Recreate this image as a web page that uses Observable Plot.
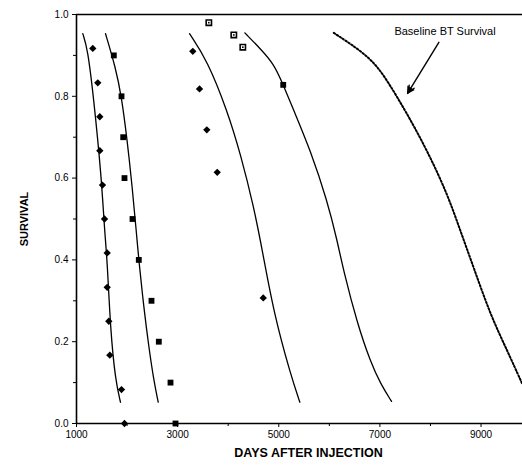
<!DOCTYPE html>
<html>
<head>
<meta charset="utf-8">
<script src="https://cdn.jsdelivr.net/npm/d3@7"></script>
<script src="https://cdn.jsdelivr.net/npm/@observablehq/plot@0.6"></script>
<style>
  html, body { margin: 0; padding: 0; background: #fff; }
  #chart svg { display: block; }
</style>
</head>
<body>
<div id="chart"></div>
<script>
// ---- data ----
const xMajorTicks = [1000, 3000, 5000, 7000, 9000];
const xMinorTicks = [2000, 4000, 6000, 8000];
const yMajorTicks = [0, 0.2, 0.4, 0.6, 0.8, 1.0];
const yMinorTicks = [0.1, 0.3, 0.5, 0.7, 0.9];

// observed points
const diamondsAx = [1322, 1421, 1461, 1461, 1514, 1554, 1607, 1607, 1639, 1659, 1890, 1949];
const diamondsAy = [0.917, 0.833, 0.75, 0.667, 0.583, 0.5, 0.417, 0.333, 0.25, 0.167, 0.083, 0];
const squaresBx = [1738, 1890, 1924, 1949, 2108, 2232, 2483, 2628, 2859, 2958];
const squaresBy = [0.9, 0.8, 0.7, 0.6, 0.5, 0.4, 0.3, 0.2, 0.1, 0];
const diamondsCx = [3300, 3433, 3577, 3783, 4693];
const diamondsCy = [0.91, 0.818, 0.718, 0.614, 0.307];
const openSquaresx = [3617, 4111, 4289];
const openSquaresy = [0.98, 0.95, 0.92];
const filledSquareDx = [5088];
const filledSquareDy = [0.828];

// fitted curves
const curve1x = [1125, 1218, 1336, 1494, 1554, 1607, 1672, 1771, 1870];
const curve1y = [0.953, 0.917, 0.800, 0.601, 0.472, 0.401, 0.227, 0.105, 0.052];
const curve2x = [1574, 1771, 1890, 2003, 2102, 2181, 2232, 2331, 2430, 2529, 2616];
const curve2y = [0.953, 0.871, 0.800, 0.692, 0.578, 0.472, 0.399, 0.284, 0.187, 0.105, 0.052];
const curve3x = [3235, 3585, 3981, 4244, 4507, 4680, 4902, 5233, 5417];
const curve3y = [0.953, 0.888, 0.765, 0.659, 0.529, 0.420, 0.270, 0.120, 0.052];
const curve4x = [4329, 4639, 4902, 5068, 5298, 5628, 5958, 6156, 6287, 6552, 6815, 7013, 7230];
const curve4y = [0.955, 0.916, 0.879, 0.834, 0.765, 0.667, 0.545, 0.447, 0.370, 0.245, 0.150, 0.097, 0.054];
const baselineX = [6089, 6815, 7145, 7541, 7936, 8332, 8595, 8858, 9188, 9519, 9815];
const baselineY = [0.955, 0.896, 0.839, 0.757, 0.667, 0.562, 0.470, 0.380, 0.265, 0.178, 0.097];

const annotationText = "Baseline BT Survival";
const annotationPos = {x: 8288, y: 0.959};
const arrowFrom = {x: 8166, y: 0.932};
const arrowTo = {x: 7547, y: 0.807};

// ---- build tables ----
const zip = (xs, ys) => xs.map((x, i) => ({x, y: ys[i]}));
const curves = [
  zip(curve1x, curve1y), zip(curve2x, curve2y),
  zip(curve3x, curve3y), zip(curve4x, curve4y)
];

const font = "'Liberation Sans', Arial, Helvetica, sans-serif";

const chart = Plot.plot({
  width: 522,
  height: 471,
  marginLeft: 76,
  marginRight: 0,
  marginTop: 14,
  marginBottom: 48,
  style: {fontFamily: font, fontSize: "10px", color: "#000", background: "#fff"},
  x: {domain: [1000, 9820]},
  y: {domain: [0, 1]},
  marks: [
    ...curves.map(c => Plot.line(c, {x: "x", y: "y", curve: "basis", stroke: "#000", strokeWidth: 1.3})),
    Plot.line(zip(baselineX, baselineY), {x: "x", y: "y", curve: "basis", stroke: "#000", strokeWidth: 2, strokeDasharray: "1.5,2"}),
    Plot.ruleY([0, 1], {stroke: "#000", strokeWidth: 1.6}),
    Plot.ruleX([1000], {stroke: "#000", strokeWidth: 1.6}),
    Plot.axisX(xMajorTicks, {tickSize: 4, tickPadding: 3, tickFormat: "d", label: null, fontSize: 10}),
    Plot.axisX(xMinorTicks, {tickSize: 3, tickFormat: () => "", label: null}),
    Plot.axisY(yMajorTicks, {tickSize: 4, tickPadding: 4, tickFormat: ".1f", label: null, fontSize: 10}),
    Plot.axisY(yMinorTicks, {tickSize: 3, tickFormat: () => "", label: null}),
    Plot.dot(zip(diamondsAx, diamondsAy), {x: "x", y: "y", symbol: "diamond2", r: 3.3, fill: "#000", stroke: "none"}),
    Plot.dot(zip(diamondsCx, diamondsCy), {x: "x", y: "y", symbol: "diamond2", r: 3.3, fill: "#000", stroke: "none"}),
    Plot.dot(zip(squaresBx, squaresBy), {x: "x", y: "y", symbol: "square", r: 3.3, fill: "#000", stroke: "none"}),
    Plot.dot(zip(filledSquareDx, filledSquareDy), {x: "x", y: "y", symbol: "square", r: 3.3, fill: "#000", stroke: "none"}),
    Plot.dot(zip(openSquaresx, openSquaresy), {x: "x", y: "y", symbol: "square", r: 3, fill: "#fff", stroke: "#000", strokeWidth: 1.6}),
    Plot.dot(zip(openSquaresx, openSquaresy), {x: "x", y: "y", r: 0.9, fill: "#000", stroke: "none"}),
    Plot.text([annotationText], {x: () => annotationPos.x, y: () => annotationPos.y, fontSize: 11, fill: "#000"}),
    Plot.arrow([0], {x1: () => arrowFrom.x, y1: () => arrowFrom.y, x2: () => arrowTo.x, y2: () => arrowTo.y, stroke: "#000", strokeWidth: 1.4, headLength: 9, headAngle: 40}),
    Plot.dot([0], {x: () => arrowTo.x, y: () => arrowTo.y, symbol: "triangle", r: 3.2, rotate: 211, dx: 2.2, dy: -3.6, fill: "#000", stroke: "none"}),
    Plot.text(["SURVIVAL"], {frameAnchor: "left", dx: -52, rotate: -90, textAnchor: "middle", lineAnchor: "middle", fontWeight: "bold", fontSize: 11, fill: "#000"}),
    Plot.text(["DAYS AFTER INJECTION"], {frameAnchor: "bottom", dx: 9, dy: 29, textAnchor: "middle", lineAnchor: "middle", fontWeight: "bold", fontSize: 12.5, fill: "#000"})
  ]
});

document.getElementById("chart").appendChild(chart);
</script>
</body>
</html>
